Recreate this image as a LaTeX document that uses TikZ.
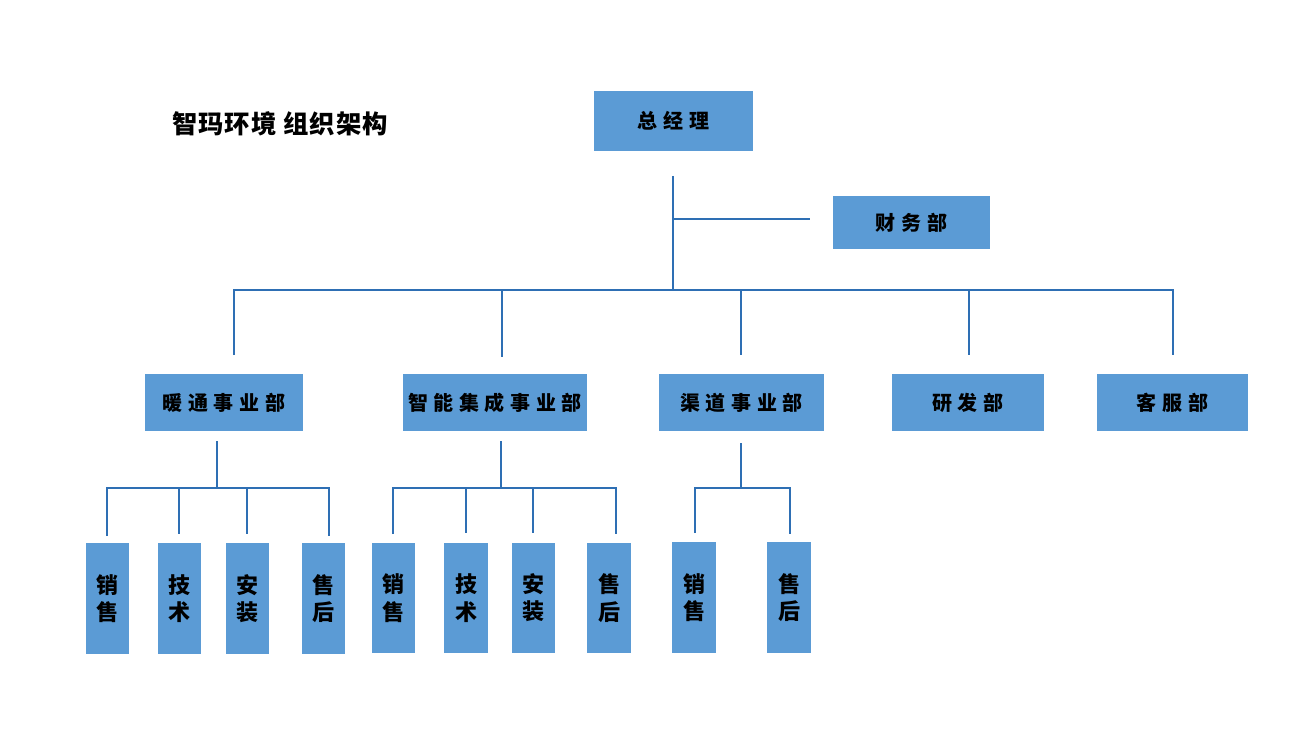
\documentclass[tikz,border=0pt]{standalone}
\usepackage{fontspec}
\newfontfamily\cjk{Noto Sans CJK SC}
\usetikzlibrary{fit}
\definecolor{boxblue}{HTML}{5B9BD5}
\definecolor{lineblue}{HTML}{2E6FB4}
\begin{document}
\begin{tikzpicture}[x=0.75pt,y=-0.75pt,
  box/.style={fill=boxblue, draw=none, inner sep=0pt},
  htxt/.style={inner sep=0pt, text=black,
    font=\cjk\bfseries\fontsize{15}{18}\selectfont\addfontfeature{LetterSpace=28}},
  vtxt/.style={inner sep=0pt, text=black, align=center,
    font=\cjk\bfseries\fontsize{16.5}{20.5}\selectfont},
  conn/.style={draw=lineblue, line width=1.6pt}]
\useasboundingbox (0,0) rectangle (1300,731);

% title
\node[font=\cjk\bfseries\fontsize{19}{23}\selectfont\addfontfeature{LetterSpace=4}] (title) at (280,124) {智玛环境 组织架构};

% level 0/1
\node[box, fit={(594,91) (753,151)}, label={[htxt]center:总经理}] (gm) {};
\node[box, fit={(833,196) (990,249)}, label={[htxt]center:财务部}] (fin) {};

% level 2
\node[box, fit={(145,374) (303,431)}, label={[htxt]center:暖通事业部}] (hv) {};
\node[box, fit={(403,374) (587,431)}, label={[htxt]center:智能集成事业部}] (zn) {};
\node[box, fit={(659,374) (824,431)}, label={[htxt]center:渠道事业部}] (qd) {};
\node[box, fit={(892,374) (1044,431)}, label={[htxt]center:研发部}] (yf) {};
\node[box, fit={(1097,374) (1248,431)}, label={[htxt]center:客服部}] (kf) {};

% level 3
\node[box, fit={(86,543) (129,654)}, label={[vtxt]center:销\\售}] (hv1) {};
\node[box, fit={(158,543) (201,654)}, label={[vtxt]center:技\\术}] (hv2) {};
\node[box, fit={(226,543) (269,654)}, label={[vtxt]center:安\\装}] (hv3) {};
\node[box, fit={(302,543) (345,654)}, label={[vtxt]center:售\\后}] (hv4) {};

\node[box, fit={(372,543) (415,653)}, label={[vtxt]center:销\\售}] (zn1) {};
\node[box, fit={(444,543) (488,653)}, label={[vtxt]center:技\\术}] (zn2) {};
\node[box, fit={(512,543) (555,653)}, label={[vtxt]center:安\\装}] (zn3) {};
\node[box, fit={(587,543) (631,653)}, label={[vtxt]center:售\\后}] (zn4) {};

\node[box, fit={(672,542) (716,653)}, label={[vtxt]center:销\\售}] (qd1) {};
\node[box, fit={(767,542) (811,653)}, label={[vtxt]center:售\\后}] (qd2) {};

% connector coordinates
\coordinate (gmT) at (673,176);
\coordinate (gmJ) at (673,219);
\coordinate (finE) at (810,219);
\coordinate (bus) at (673,290);
\coordinate (hvT) at (234,290);  \coordinate (hvE) at (234,355);
\coordinate (znT) at (502,290);  \coordinate (znE) at (502,357);
\coordinate (qdT) at (741,290);  \coordinate (qdE) at (741,355);
\coordinate (yfT) at (969,290);  \coordinate (yfE) at (969,355);
\coordinate (kfT) at (1173,290); \coordinate (kfE) at (1173,355);

\draw[conn] (gmT) -- (bus);
\draw[conn] (gmJ) -- (finE);
\draw[conn] (hvE) -- (hvT) -- (kfT) -- (kfE);
\draw[conn] (znT) -- (znE);
\draw[conn] (qdT) -- (qdE);
\draw[conn] (yfT) -- (yfE);

% 暖通 sub-tree
\coordinate (hvS) at (217,441); \coordinate (hvB) at (217,488);
\draw[conn] (hvS) -- (hvB);
\draw[conn] (107,536) coordinate (h1) -- (107,488) -- (329,488) -- (329,536) coordinate (h4);
\draw[conn] (179,488) coordinate (h2a) -- (179,534) coordinate (h2);
\draw[conn] (247,488) coordinate (h3a) -- (247,534) coordinate (h3);

% 智能 sub-tree
\coordinate (znS) at (501,441); \coordinate (znB) at (501,488);
\draw[conn] (znS) -- (znB);
\draw[conn] (393,534) coordinate (z1) -- (393,488) -- (616,488) -- (616,534) coordinate (z4);
\draw[conn] (466,488) coordinate (z2a) -- (466,533) coordinate (z2);
\draw[conn] (533,488) coordinate (z3a) -- (533,533) coordinate (z3);

% 渠道 sub-tree
\coordinate (qdS) at (741,443); \coordinate (qdB) at (741,488);
\draw[conn] (qdS) -- (qdB);
\draw[conn] (695,533) coordinate (q1) -- (695,488) -- (790,488) -- (790,534) coordinate (q2);
\end{tikzpicture}
\end{document}
